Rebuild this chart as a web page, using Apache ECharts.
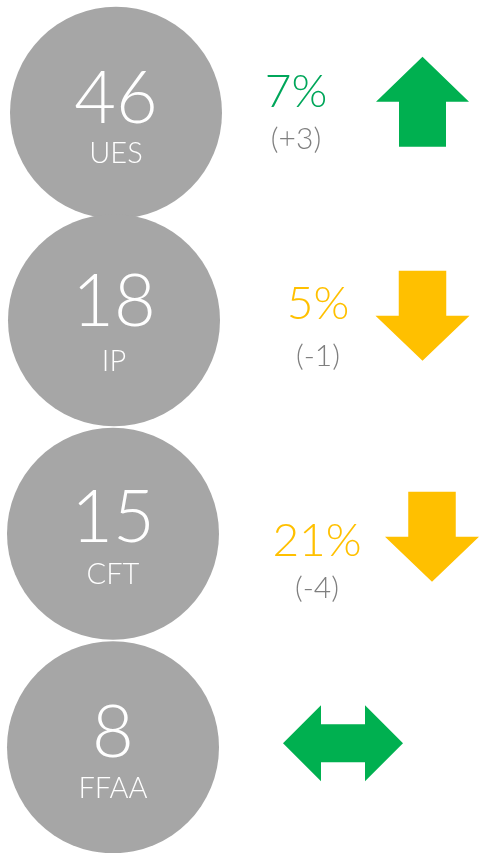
<!DOCTYPE html>
<html>
<head>
<meta charset="utf-8">
<script src="https://cdn.jsdelivr.net/npm/echarts@6/dist/echarts.min.js"></script>
<style>html,body{margin:0;padding:0;background:#fff;}#c{width:480px;height:853px;}</style>
</head>
<body>
<div id="c"></div>
<script>
// ---- data ----
var categories = ['UES', 'IP', 'CFT', 'FFAA'];
var counts = [46, 18, 15, 8];
var pctLabels = ['7%', '5%', '21%', ''];
var changes = ['(+3)', '(-1)', '(-4)', ''];
var trends = ['up', 'down', 'down', 'flat'];

// ---- layout (not data) ----
var circleX = [116, 114, 113, 113];
var circleDy = [0, -4, -2, 0];
var textX = [296, 318, 317, 317];
var pctDy = [-21, -20, 5, 0];
var chgDy = [27, 32, 53, 0];
var arrowX = [422.5, 422.5, 432, 343];
var arrowDy = [-11, -8.5, 1, -4];

var trendColor = { up: '#00b050', down: '#ffc000', flat: '#00b050' };
var textColor = { up: '#00a65a', down: '#ffc000', flat: '#00a65a' };
var arrowPath = {
  up: 'path://M46.5,0 L93,45 L70,45 L70,90 L23,90 L23,45 L0,45 Z',
  down: 'path://M23,0 L70,0 L70,45 L93,45 L46.5,90 L0,45 L23,45 Z',
  flat: 'path://M0,38 L38,0 L38,19 L82,19 L82,0 L120,38 L82,76 L82,57 L38,57 L38,76 Z'
};
var arrowSize = { up: [93, 90], down: [94, 90], flat: [120, 76] };

var FONT = '"Segoe UI Light", Lato, "Open Sans", sans-serif';

var circleData = categories.map(function (c, i) {
  return { value: [circleX[i], c], symbolOffset: [0, circleDy[i]],
    label: { offset: [0, circleDy[i] - 13] } };
});
var nameData = categories.map(function (c, i) {
  return { value: [circleX[i], c], label: { offset: [0, circleDy[i] + 41], formatter: c } };
});
var pctData = categories.map(function (c, i) {
  return { value: [textX[i], c], label: { offset: [0, pctDy[i]], formatter: pctLabels[i], color: textColor[trends[i]] } };
});
var chgData = categories.map(function (c, i) {
  return { value: [textX[i], c], label: { offset: [0, chgDy[i]], formatter: changes[i] } };
});
var arrowData = categories.map(function (c, i) {
  var t = trends[i];
  return { value: [arrowX[i], c], symbol: arrowPath[t], symbolSize: arrowSize[t],
    symbolOffset: [0, arrowDy[i]], itemStyle: { color: trendColor[t], opacity: 1 } };
});

var hidden = { color: '#ffffff', opacity: 0 };

var chart = echarts.init(document.getElementById('c'), null, { renderer: 'canvas' });
chart.setOption({
  animation: false,
  backgroundColor: '#ffffff',
  grid: { left: 0, right: 0, top: 7, bottom: -2 },
  xAxis: { type: 'value', min: 0, max: 480, show: false },
  yAxis: { type: 'category', data: categories, inverse: true, show: false },
  series: [
    {
      type: 'scatter', data: circleData, symbol: 'circle', symbolSize: 212,
      itemStyle: { color: '#a6a6a6', opacity: 1 }, z: 1,
      label: { show: true, position: 'inside', color: '#ffffff', fontFamily: FONT, fontWeight: 300, fontSize: 72,
        formatter: function (p) { return counts[p.dataIndex]; } }
    },
    {
      type: 'scatter', data: nameData, symbolSize: 1, itemStyle: hidden, z: 3,
      label: { show: true, position: 'inside', color: '#ffffff', opacity: 1, fontFamily: FONT, fontWeight: 300, fontSize: 29 }
    },
    {
      type: 'scatter', data: pctData, symbolSize: 1, itemStyle: hidden, z: 3,
      label: { show: true, position: 'inside', opacity: 1, fontFamily: FONT, fontWeight: 300, fontSize: 46 }
    },
    {
      type: 'scatter', data: chgData, symbolSize: 1, itemStyle: hidden, z: 3,
      label: { show: true, position: 'inside', color: '#7f7f7f', opacity: 1, fontFamily: FONT, fontWeight: 300, fontSize: 30 }
    },
    {
      type: 'scatter', data: arrowData, z: 2
    }
  ]
});
</script>
</body>
</html>
